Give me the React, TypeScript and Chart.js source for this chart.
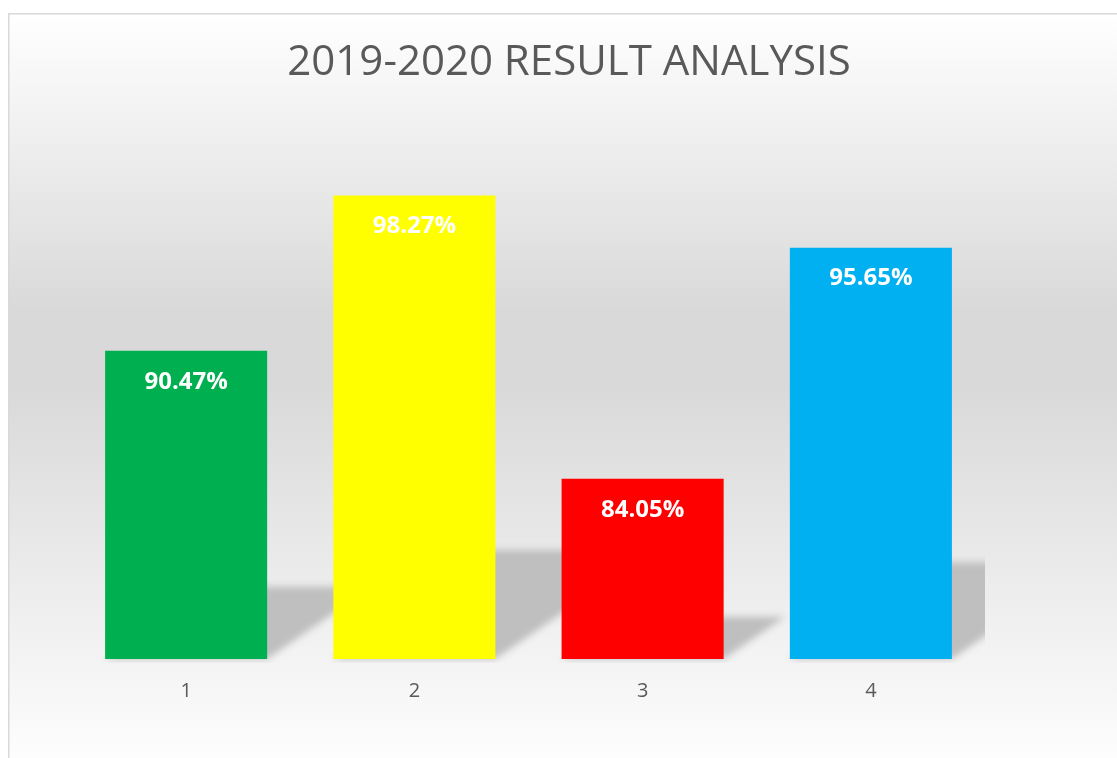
import React, { useEffect, useRef } from "react";
import { Chart, registerables } from "chart.js";

Chart.register(...registerables);

const categories = ["1", "2", "3", "4"];
const resultValues = [90.47, 98.27, 84.05, 95.65];
const barColors = ["#00B050", "#FFFF00", "#FF0000", "#00B0F0"];
const titleText = "2019-2020 RESULT ANALYSIS";
const yMin = 75;
const yMax = 100;

const backgroundPlugin = {
  id: "bgPlugin",
  beforeDraw(chart: any) {
    const { ctx, width, height } = chart;
    ctx.save();
    const g = ctx.createLinearGradient(0, 0, 0, height);
    g.addColorStop(0, "#ffffff");
    g.addColorStop(0.4, "#d9d9d9");
    g.addColorStop(0.5, "#d9d9d9");
    g.addColorStop(1, "#fdfdfd");
    ctx.fillStyle = g;
    ctx.fillRect(0, 0, width, height);
    ctx.strokeStyle = "#d9d9d9";
    ctx.lineWidth = 1.5;
    ctx.beginPath();
    ctx.moveTo(0.75, height);
    ctx.lineTo(0.75, 0.75);
    ctx.lineTo(width, 0.75);
    ctx.stroke();
    ctx.restore();
  },
};

const shadowPlugin = {
  id: "shadowPlugin",
  beforeDatasetsDraw(chart: any) {
    const { ctx, chartArea } = chart;
    const meta = chart.getDatasetMeta(0);
    const bottom = chart.scales.y.getPixelForValue(yMin);
    const far = 5000;
    ctx.save();
    ctx.beginPath();
    ctx.rect(chartArea.left, chartArea.top, chartArea.right - chartArea.left, chartArea.bottom - chartArea.top + 4);
    ctx.clip();
    ctx.shadowColor = "#bfbfbf";
    ctx.shadowBlur = 7;
    ctx.shadowOffsetX = far;
    ctx.shadowOffsetY = 0;
    ctx.fillStyle = "#bfbfbf";
    meta.data.forEach((el: any) => {
      const { x, y, width } = el.getProps(["x", "y", "width"], true);
      const left = x - width / 2 - far;
      const right = x + width / 2 - far;
      const h = (bottom - y) * 0.235;
      const dx = h * 1.45;
      ctx.beginPath();
      ctx.moveTo(left, bottom);
      ctx.lineTo(right, bottom);
      ctx.lineTo(right + dx, bottom - h);
      ctx.lineTo(left + dx, bottom - h);
      ctx.closePath();
      ctx.fill();
    });
    ctx.restore();
  },
};

const labelPlugin = {
  id: "labelPlugin",
  afterDatasetsDraw(chart: any) {
    const { ctx } = chart;
    const meta = chart.getDatasetMeta(0);
    ctx.save();
    ctx.fillStyle = "#ffffff";
    ctx.font = "bold 24px 'Open Sans'";
    ctx.textAlign = "center";
    ctx.textBaseline = "middle";
    meta.data.forEach((el: any, i: number) => {
      const { x, y } = el.getProps(["x", "y"], true);
      ctx.fillText(resultValues[i].toFixed(2) + "%", x, y + 31);
    });
    ctx.restore();
  },
};

const hiddenAxis = (position: string, size: number) => ({
  position,
  display: true,
  grid: { display: false, drawTicks: false },
  border: { display: false },
  ticks: { display: false },
  afterFit(scale: any) {
    scale.width = size;
  },
});

export default function App() {
  const canvasRef = useRef<HTMLCanvasElement | null>(null);

  useEffect(() => {
    if (!canvasRef.current) return;
    const chart = new Chart(canvasRef.current, {
      type: "bar",
      data: {
        labels: categories,
        datasets: [
          {
            data: resultValues,
            backgroundColor: barColors,
            borderWidth: 0,
            barPercentage: 0.71,
            categoryPercentage: 1,
            yAxisID: "y",
          },
        ],
      },
      options: {
        animation: false,
        responsive: true,
        maintainAspectRatio: false,
        layout: { padding: { left: 0, right: 0, top: 0, bottom: 35 } },
        plugins: {
          legend: { display: false },
          tooltip: { enabled: false },
          title: {
            display: true,
            text: titleText,
            color: "#595959",
            font: { family: "'Open Sans'", size: 42, weight: "normal", lineHeight: 1.2 },
            padding: { top: 25, bottom: 72.6 },
          },
        },
        scales: {
          x: {
            grid: { display: false, drawTicks: false },
            border: { display: false },
            ticks: {
              color: "#595959",
              padding: 20,
              font: { family: "'Open Sans'", size: 20, lineHeight: 1.2 },
            },
          },
          y: {
            ...hiddenAxis("left", 64),
            min: yMin,
            max: yMax,
          },
          yRight: {
            ...hiddenAxis("right", 145),
          },
        },
      } as any,
      plugins: [backgroundPlugin, shadowPlugin, labelPlugin],
    });
    return () => chart.destroy();
  }, []);

  return (
    <div
      style={{
        position: "absolute",
        left: 8,
        top: 13,
        width: 1109,
        height: 745,
        overflow: "hidden",
      }}
    >
      <div style={{ position: "relative", width: 1122, height: 745 }}>
        <canvas ref={canvasRef} />
      </div>
    </div>
  );
}
